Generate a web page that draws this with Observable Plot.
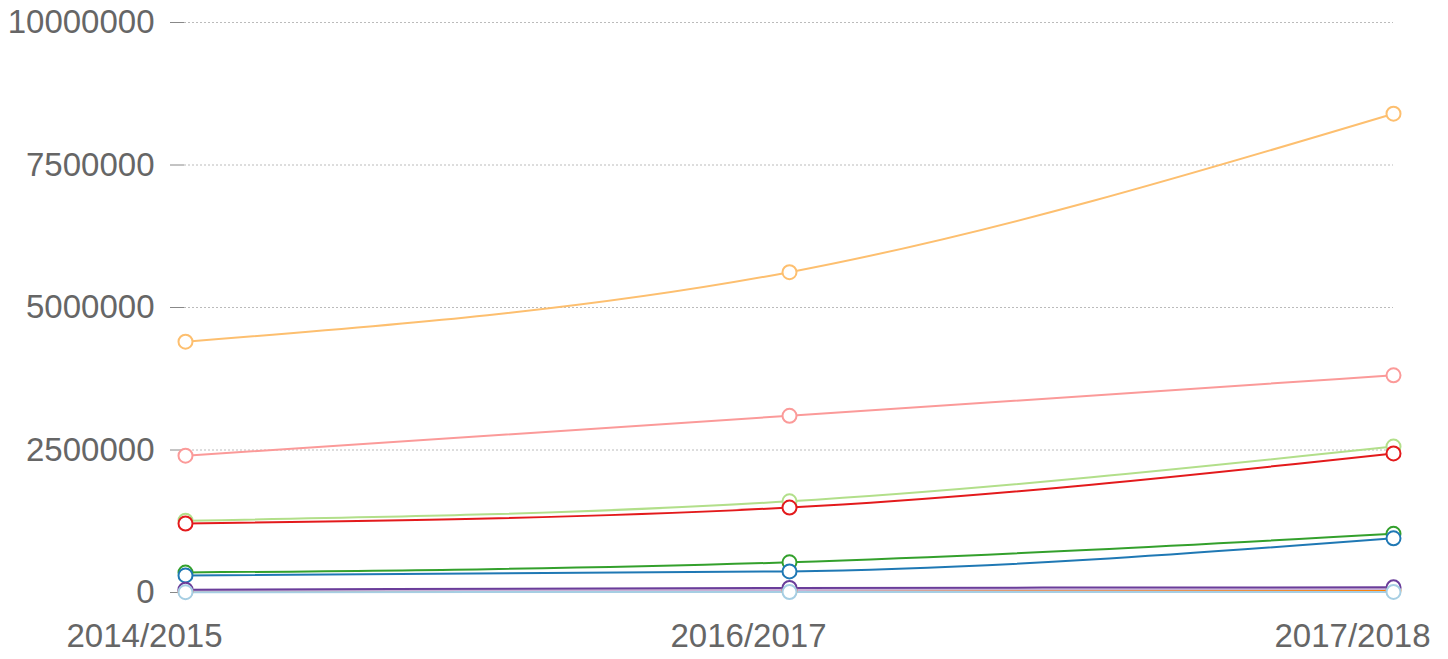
<!DOCTYPE html>
<html><head><meta charset="utf-8">
<script src="https://cdn.jsdelivr.net/npm/d3@7"></script>
<script src="https://cdn.jsdelivr.net/npm/@observablehq/plot@0.6"></script>
<style>html,body{margin:0;padding:0;background:#fff;overflow:hidden}</style>
</head><body><div id="chart"></div>
<script>
const years = ["2014/2015", "2016/2017", "2017/2018"];
const seriesNames = ["S1","S2","S3","S4","S5","S6","S7","S8","S9","S10"];
const s1 = [5000, 8000, 10000];
const s2 = [300000, 370000, 950000];
const s3 = [1260000, 1600000, 2560000];
const s4 = [350000, 530000, 1030000];
const s5 = [2400000, 3100000, 3810000];
const s6 = [1210000, 1490000, 2440000];
const s7 = [4400000, 5620000, 8400000];
const s8 = [20000, 30000, 40000];
const s9 = [30000, 45000, 60000];
const s10 = [50000, 80000, 90000];
const allSeries = [s1,s2,s3,s4,s5,s6,s7,s8,s9,s10];
const yTicks = [0, 2500000, 5000000, 7500000, 10000000];

const data = [];
allSeries.forEach((vals, i) => vals.forEach((v, j) => data.push({series: seriesNames[i], year: years[j], value: v})));
const drawOrder = ["S7","S5","S3","S6","S4","S2","S8","S9","S10","S1"];
const ordered = drawOrder.flatMap(n => data.filter(d => d.series === n));

const chart = Plot.plot({
  width: 1448, height: 659,
  marginLeft: 184, marginRight: 55, marginTop: 22, marginBottom: 67,
  style: {fontFamily: "'Liberation Sans', Arial, sans-serif", fontSize: "33px", color: "#666", background: "#fff"},
  x: {type: "point", domain: years, label: null, padding: 0},
  y: {domain: [0, 10000000], label: null},
  color: {domain: seriesNames, range: d3.schemePaired},
  marks: [
    Plot.gridY(yTicks, {stroke: "#bbb", strokeOpacity: 1, strokeDasharray: "2,2"}),
    Plot.axisY(yTicks, {tickFormat: d => String(d), tickSize: 14, tickPadding: 16, stroke: "#888", fill: "#666", label: null}),
    Plot.axisX(years, {tickSize: 0, tickPadding: 31, dx: -41, fill: "#666", label: null}),
    Plot.line(ordered, {x: "year", y: "value", z: "series", stroke: "series", strokeWidth: 2, curve: "monotone-x"}),
    Plot.dot(ordered, {x: "year", y: "value", stroke: "series", fill: "white", r: 7, strokeWidth: 2})
  ]
});
document.getElementById("chart").appendChild(chart);
</script></body></html>
